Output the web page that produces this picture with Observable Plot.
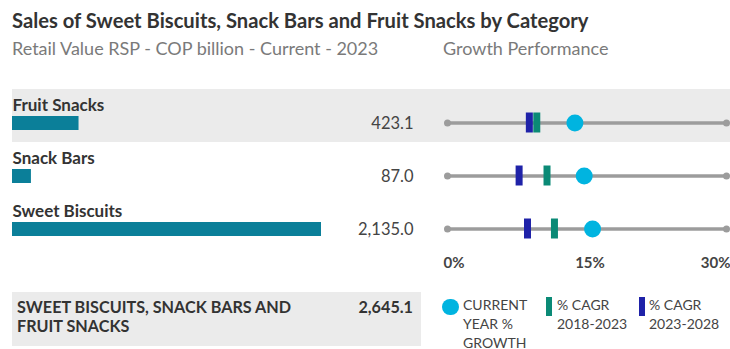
<!DOCTYPE html>
<html><head><meta charset="utf-8">
<script src="https://cdn.jsdelivr.net/npm/d3@7"></script>
<script src="https://cdn.jsdelivr.net/npm/@observablehq/plot@0.6"></script>
<style>
body{margin:0;background:#fff;font-family:Lato,"Open Sans",sans-serif;}
#root{position:relative;width:730px;height:349px;overflow:hidden;background:#fff;}
.t{position:absolute;white-space:nowrap;line-height:1;}
.p{position:absolute;}
</style></head><body><div id="root"></div>
<script>
// ---- data ----
const categories = ["Fruit Snacks", "Snack Bars", "Sweet Biscuits"];
const sales = [423.1, 87.0, 2135.0];                 // COP billion, 2023
const growthCurrent = [13.7, 14.7, 15.6];            // current year % growth
const cagr2018_2023 = [9.6, 10.7, 11.5];             // % CAGR 2018-2023
const cagr2023_2028 = [8.8, 7.7, 8.6];               // % CAGR 2023-2028
const axisTicks = [0, 15, 30];
const axisTickLabels = ["0%", "15%", "30%"];
const shadedRows = ["Fruit Snacks"];
const totalLabel = "SWEET BISCUITS, SNACK BARS AND<br>FRUIT SNACKS";
const totalValue = 2645.1;

// ---- style ----
const FONT = "Lato, 'Open Sans', sans-serif";
const C = {bar:"#0b7f99", cyan:"#00b4e0", green:"#0b8a76", blue:"#1f22a8", line:"#9c9c9c", shade:"#ebebeb", dark:"#333", mid:"#444", sub:"#7a7a7a"};
const fmt = d3.format(",.1f");

const root = document.getElementById("root");
function addText(html, x, base, size, weight, color, align, lh) {
  const d = document.createElement("div");
  d.className = "t";
  d.innerHTML = html;
  lh = lh || size;
  d.style.fontSize = size + "px";
  d.style.fontWeight = weight;
  d.style.color = color;
  d.style.lineHeight = lh + "px";
  d.style.top = (base - ((lh - 1.2 * size) / 2 + 0.987 * size)) + "px";
  if (align === "right") { d.style.right = (730 - x) + "px"; d.style.textAlign = "right"; }
  else d.style.left = x + "px";
  root.appendChild(d);
  return d;
}
function addBox(x, y, w, h, bg, radius) {
  const d = document.createElement("div");
  d.className = "p";
  Object.assign(d.style, {left:x+"px", top:y+"px", width:w+"px", height:h+"px", background:bg, borderRadius:radius||0});
  root.appendChild(d);
  return d;
}

// titles
addText("Sales of Sweet Biscuits, Snack Bars and Fruit Snacks by Category", 12, 28, 20.2, 700, C.dark);
addText("Retail Value RSP - COP billion - Current - 2023", 12, 55, 18, 400, C.sub);
addText("Growth Performance", 443, 55, 18, 400, C.sub);

const rows = categories.map((c, i) => ({
  category: c, sales: sales[i], current: growthCurrent[i],
  cagrPast: cagr2018_2023[i], cagrFuture: cagr2023_2028[i]
}));

// left panel: sales bars
const left = Plot.plot({
  width: 440, height: 160,
  marginLeft: 12, marginRight: 0, marginTop: 0, marginBottom: 0,
  x: {domain: [0, d3.max(sales)], range: [18.6, 321], axis: null},
  y: {domain: categories, range: [1, 160], padding: 0, axis: null},
  style: {fontFamily: FONT, background: "transparent", overflow: "visible"},
  marks: [
    Plot.cell(shadedRows, {y: d => d, fill: C.shade}),
    Plot.barX(rows, {y: "category", x: "sales", fill: C.bar, insetTop: 27, insetBottom: 12, insetLeft: -6.6}),
    Plot.text(rows, {y: "category", text: "category", frameAnchor: "left", textAnchor: "start", lineAnchor: "bottom", dy: -5.5, fontSize: 17, fontWeight: "bold", fill: C.dark}),
    Plot.text(rows, {y: "category", text: d => fmt(d.sales), frameAnchor: "right", textAnchor: "end", lineAnchor: "bottom", dx: -27, dy: 12.5, fontSize: 16.5, fill: C.mid})
  ]
});
left.classList.add("p");
left.style.left = "0px"; left.style.top = "88px";
root.appendChild(left);

// right panel: growth performance
const ticks = axisTicks.map((v, i) => ({v, label: axisTickLabels[i]}));
const ends = categories.flatMap(c => [axisTicks[0], axisTicks[axisTicks.length - 1]].map(v => ({category: c, v})));
const right = Plot.plot({
  width: 290, height: 190,
  marginLeft: 7, marginRight: 4, marginTop: 0, marginBottom: 11,
  x: {domain: [axisTicks[0], axisTicks[axisTicks.length - 1]], range: [7, 286], axis: null},
  y: {domain: categories, range: [1, 160], padding: 0, axis: null},
  style: {fontFamily: FONT, background: "transparent", overflow: "visible"},
  marks: [
    Plot.cell(shadedRows, {y: d => d, fill: C.shade, insetLeft: -7, insetRight: -4}),
    Plot.ruleY(categories, {y: d => d, dy: 7, stroke: C.line, strokeWidth: 3.5}),
    Plot.dot(ends, {x: "v", y: "category", dy: 7, r: 3.5, fill: C.line}),
    Plot.tickX(rows, {x: "cagrPast", y: "category", stroke: C.green, strokeWidth: 7, insetTop: 23.5, insetBottom: 9.5}),
    Plot.tickX(rows, {x: "cagrFuture", y: "category", stroke: C.blue, strokeWidth: 7, insetTop: 23.5, insetBottom: 9.5}),
    Plot.dot(rows, {x: "current", y: "category", dy: 7, r: 8.5, fill: C.cyan}),
    Plot.text([ticks[0]], {x: "v", text: "label", frameAnchor: "bottom", lineAnchor: "bottom", textAnchor: "start", dx: -4, fontSize: 15, fontWeight: "bold", fill: C.mid}),
    Plot.text([ticks[1]], {x: "v", text: "label", frameAnchor: "bottom", lineAnchor: "bottom", textAnchor: "middle", dx: 3, fontSize: 15, fontWeight: "bold", fill: C.mid}),
    Plot.text([ticks[2]], {x: "v", text: "label", frameAnchor: "bottom", lineAnchor: "bottom", textAnchor: "end", dx: 4, fontSize: 15, fontWeight: "bold", fill: C.mid})
  ]
});
right.classList.add("p");
right.style.left = "440px"; right.style.top = "88px";
root.appendChild(right);

// total box
addBox(12, 292, 409, 54, C.shade);
addText(totalLabel, 17, 313, 16.2, 700, C.dark, "left", 19.5);
addText(fmt(totalValue), 413, 313, 16.2, 700, C.dark, "right");

// legend
addBox(442, 298.5, 16.5, 16.5, C.cyan, "50%");
addText("CURRENT<br>YEAR %<br>GROWTH", 463, 310, 14, 400, C.mid, "left", 19);
addBox(546, 297, 6, 19, C.green);
addText("% CAGR<br>2018-2023", 557, 310, 14, 400, C.mid, "left", 19.5);
addBox(639, 297, 6, 19, C.blue);
addText("% CAGR<br>2023-2028", 649, 310, 14, 400, C.mid, "left", 19.5);
</script></body></html>
